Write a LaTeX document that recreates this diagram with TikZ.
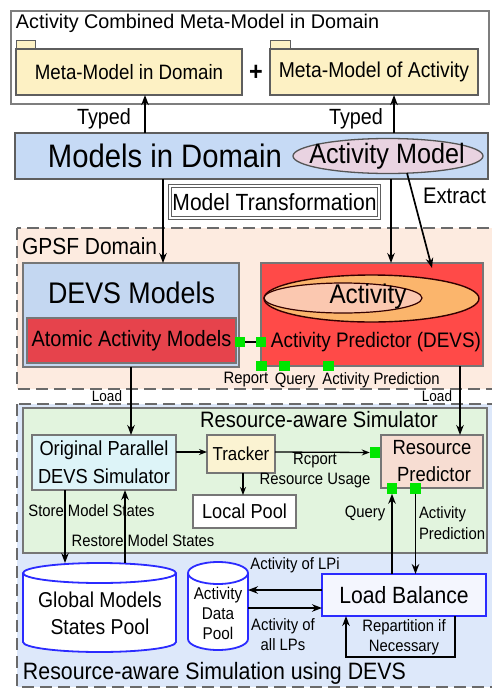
\documentclass[tikz,border=0pt]{standalone}
\usepackage{fontspec}
\setmainfont{Liberation Sans}[FakeStretch=0.9]
\newfontfamily\widesans{Liberation Sans}
\usetikzlibrary{arrows.meta,shapes.geometric,calc}
\newcommand\fs[2]{\fontsize{#1}{#2}\selectfont}

\definecolor{frame}{HTML}{5E5E5E}
\definecolor{yellowbox}{HTML}{FDF1C4}
\definecolor{modelsblue}{HTML}{C6DAF5}
\definecolor{pinkell}{HTML}{E9D3E1}
\definecolor{gpsffill}{HTML}{FDEBE0}
\definecolor{devsblue}{HTML}{C4D7F1}
\definecolor{atomicred}{HTML}{E6434C}
\definecolor{predred}{HTML}{FF4A48}
\definecolor{orangeell}{HTML}{FBB56C}
\definecolor{peachell}{HTML}{FBC8B0}
\definecolor{portgreen}{HTML}{00E600}
\definecolor{simfill}{HTML}{DDE8FA}
\definecolor{simgreen}{HTML}{E2F4DE}
\definecolor{opsfill}{HTML}{DDF4F8}
\definecolor{trackerfill}{HTML}{FBF3D2}
\definecolor{rpfill}{HTML}{F7DDD2}
\definecolor{lbfill}{HTML}{F4F6FE}
\definecolor{poolblue}{HTML}{2B2BFF}
\definecolor{dashgray}{HTML}{6A6A6A}

\begin{document}
\begin{tikzpicture}[x=1pt,y=-1pt,
  every node/.style={inner sep=0pt, outer sep=0pt},
  rbox/.style={draw=frame, line width=1.5pt, rectangle},
  tabbox/.style={draw=frame, line width=1pt, fill=yellowbox},
  region/.style={draw=dashgray, line width=2pt, dash pattern=on 12pt off 6pt},
  arr/.style={-{Stealth[length=10pt,width=7.5pt]}, line width=1.7pt},
  sarr/.style={-{Stealth[length=8pt,width=6pt]}, line width=1.3pt},
  port/.style={fill=portgreen, minimum size=10.5pt, rectangle},
  lbl/.style={font=\fs{16.5}{20}},
  pool/.style={draw=poolblue, line width=1.8pt, fill=white},
]
\useasboundingbox (0,0) rectangle (491,689);
\fill[white] (0,0) rectangle (491,689);

% ---------------- combined meta-model ----------------
\node[rbox, draw=frame!80, fill=white, line width=1.3pt, minimum width=478pt, minimum height=93pt] (combined) at (250,57.5) {};
\node[anchor=west] (combtitle) at (16,23) {\widesans\fs{19.8}{24}Activity Combined Meta-Model in Domain};

\draw[tabbox] (16,40) rectangle (35,49);
\node[rbox, fill=yellowbox, line width=1.2pt, minimum width=226pt, minimum height=46pt] (metadom) at (129,72)
  {\fs{20.8}{24}Meta-Model in Domain};
\draw[tabbox] (270,40) rectangle (290,49);
\node[rbox, fill=yellowbox, line width=1.2pt, minimum width=208pt, minimum height=46pt] (metaact) at (374,72)
  {\fs{21.5}{24}Meta-Model of Activity};
\node (plus) at (256,73) {\fs{26}{28}\textbf{+}};

% ---------------- models in domain ----------------
\node[rbox, fill=modelsblue, minimum width=473pt, minimum height=46pt] (models) at (251.5,156) {};
\node (modelstext) at (165,156) {\fs{32.5}{36}Models in Domain};
\node[ellipse, draw=frame!90!black, line width=1.3pt, fill=pinkell, minimum width=190pt, minimum height=35pt] (actmodel) at (388,156) {};
\node (actmodeltext) at (387,156) {\fs{28}{30}Activity Model};

\draw[arr] (models.north -| 145,0) -- (metadom.south -| 145,0);
\node[anchor=east] (typed1) at (131,119) {\fs{22}{24}Typed};
\draw[arr] (models.north -| 394,0) -- (metaact.south -| 394,0);
\node[anchor=east] (typed2) at (383,119) {\fs{22}{24}Typed};

\node[draw=frame, line width=0.8pt, double=white, double distance=2.2pt, fill=white,
      minimum width=209pt, minimum height=32pt] (mt) at (274.5,202) {\fs{23.4}{26}Model Transformation};
\node[anchor=west] (extract) at (423,196) {\fs{22.5}{24}Extract};

% ---------------- GPSF domain ----------------
\draw[region, fill=gpsffill] (17,228) rectangle (497,389);
\node[anchor=west] (gpsf) at (22,246) {\fs{23.3}{26}GPSF Domain};

\node[rbox, draw=frame!85, fill=devsblue, minimum width=216pt, minimum height=104pt] (devs) at (131,315) {};
\node (devstext) at (131.5,293) {\fs{29.8}{32}DEVS Models};
\node[rbox, draw=frame!85, line width=1.2pt, fill=atomicred, minimum width=209pt, minimum height=45pt] (atomic) at (131.5,340.5)
  {\fs{22.2}{24}Atomic Activity Models};

\node[rbox, draw=frame!85, fill=predred, minimum width=222pt, minimum height=103pt] (actpred) at (372,314.5) {};
\node[ellipse, draw=black!80!red, line width=1.4pt, fill=orangeell, minimum width=215pt, minimum height=47pt] (actouter) at (371.5,298.5) {};
\node[ellipse, draw=black!80!red, line width=1.2pt, fill=peachell, minimum width=158pt, minimum height=30pt] (actinner) at (343,298) {};
\node (acttext) at (368,297) {\fs{27}{30}Activity};
\node (predtext) at (376,342) {\fs{21}{24}Activity Predictor (DEVS)};

\node[port] (pa) at (240,342) {};
\node[port] (pb) at (261,342) {};
\draw[line width=1.6pt] (pa.east) -- (pb.west);

\node[port] (qa) at (261.5,366) {};
\node[port] (qb) at (284.5,366) {};
\node[port] (qc) at (328.5,366) {};
\node[lbl] (reporttop) at (246,380) {Report};
\node[lbl] (querytop) at (295,380) {Query};
\node[lbl] (aptop) at (381,380) {Activity Prediction};

% ---------------- resource-aware simulation ----------------
\draw[region, fill=simfill] (17,404) rectangle (497,687);
\node[rbox, draw=frame!85, fill=simgreen, minimum width=464pt, minimum height=145pt] (simbox) at (255,480.5) {};
\node (simtitle) at (319,420) {\fs{22.3}{26}Resource-aware Simulator};

\node[rbox, draw=frame!85, fill=opsfill, minimum width=144pt, minimum height=55pt, align=center, font=\fs{20.3}{28}] (ops) at (104,462.5)
  {Original Parallel\\DEVS Simulator};
\node[rbox, draw=frame!85, fill=trackerfill, minimum width=68pt, minimum height=38pt] (tracker) at (241,454)
  {\fs{18.8}{22}Tracker};
\node[rbox, draw=frame!85, fill=white, minimum width=103pt, minimum height=33pt] (localpool) at (244.5,511.5)
  {\fs{20.2}{24}Local Pool};
\node[rbox, draw=frame!85, fill=rpfill, minimum width=102pt, minimum height=53pt, align=center, font=\fs{20.5}{27}] (rp) at (432,461.5)
  {Resource\\\hspace*{4pt}Predictor};

\node[port] (ra) at (375,452.5) {};
\node[port] (rb) at (392,488.5) {};
\node[port] (rc) at (415.5,488.5) {};

\draw[sarr] (ops.east |- 0,452) -- (tracker.west |- 0,452);
\draw[sarr] (tracker.east |- 0,452) -- (ra.west);
\node[lbl] (rpt) at (315,461) {Rcport};
\node[lbl] (ru) at (315,481) {Resource Usage};
\draw[sarr] (tracker.south -| 243,0) -- (localpool.north -| 243,0);

% loads from the GPSF domain
\draw[arr] (devs.south -| 131,0) -- (ops.north -| 131,0);
\node[font=\fs{15}{18}] (load1) at (107,396) {Load};
\draw[arr] (actpred.south -| 460,0) -- (rp.north -| 460,0);
\node[font=\fs{15}{18}] (load2) at (437,396) {Load};

% model transformation arrows
\draw[arr] (models.south -| 163,0) -- (devs.north -| 163,0);
\draw[arr] (models.south -| 391,0) -- (actpred.north -| 391,0);
\coordinate (extractend) at (432,268);
\draw[arr] (actmodel.-42) -- (extractend);

% ---------------- pools ----------------
\node[minimum width=153pt, minimum height=89pt] (gpool) at (99.5,607.5) {};
\draw[pool] ($(gpool.north west)+(0,10)$) -- ($(gpool.south west)+(0,-10)$)
  arc[start angle=180, end angle=0, x radius=76.5, y radius=10] -- ($(gpool.north east)+(0,10)$);
\draw[pool] (99.5,573) ellipse[x radius=76.5, y radius=10];
\node[align=center, font=\fs{21.5}{27}] (gtext) at (100,613) {Global Models\\States Pool};

\node[minimum width=60pt, minimum height=88pt] (dpool) at (218,606) {};
\draw[pool] ($(dpool.north west)+(0,11)$) -- ($(dpool.south west)+(0,-11)$)
  arc[start angle=180, end angle=0, x radius=30, y radius=11] -- ($(dpool.north east)+(0,11)$);
\draw[pool] (218,573) ellipse[x radius=30, y radius=11];
\node[align=center, font=\fs{17}{20}] (dtext) at (218,613) {Activity\\Data\\Pool};

\node[rbox, draw=poolblue, line width=1.8pt, fill=lbfill, minimum width=164pt, minimum height=42pt] (lb) at (404,595)
  {\fs{23.5}{26}Load Balance};

% store / restore
\draw[arr] (ops.south -| 65,0) -- (gpool.north -| 65,0);
\draw[arr] (gpool.north -| 125,0) -- (ops.south -| 125,0);
\node[lbl] (storel) at (91.5,511) {Store Model States};
\node[lbl] (restorel) at (143,541) {Restore Model States};

% query / prediction
\draw[arr] (lb.north -| 392,0) -- (rb.south);
\draw[arr] (rc.south) -- (lb.north -| 415.5,0);
\node[lbl] (queryl) at (365,513) {Query};
\node[lbl, anchor=west, align=left, font=\fs{16.5}{21}] (apl) at (419,523) {Activity\\Prediction};

% activity exchange with the data pool
\draw[arr] (lb.west |- 0,590) -- (dpool.east |- 0,590);
\draw[arr] (dpool.east |- 0,608) -- (lb.west |- 0,608);
\node[lbl] (lpil) at (295,565) {Activity of LPi};
\node[lbl, align=center, font=\fs{16.5}{20}] (alll) at (283,635) {Activity of\\all LPs};

% repartition loop
\draw[arr] (lb.south -| 455,0) -- ++(0,41) -| (lb.south -| 346,0);
\node[lbl, align=center, font=\fs{16.5}{20}] (repl) at (404,637) {Repartition if\\Necessary};

\node[anchor=west] (simarea) at (23,673) {\fs{23.7}{26}Resource-aware Simulation using DEVS};
\end{tikzpicture}
\end{document}
